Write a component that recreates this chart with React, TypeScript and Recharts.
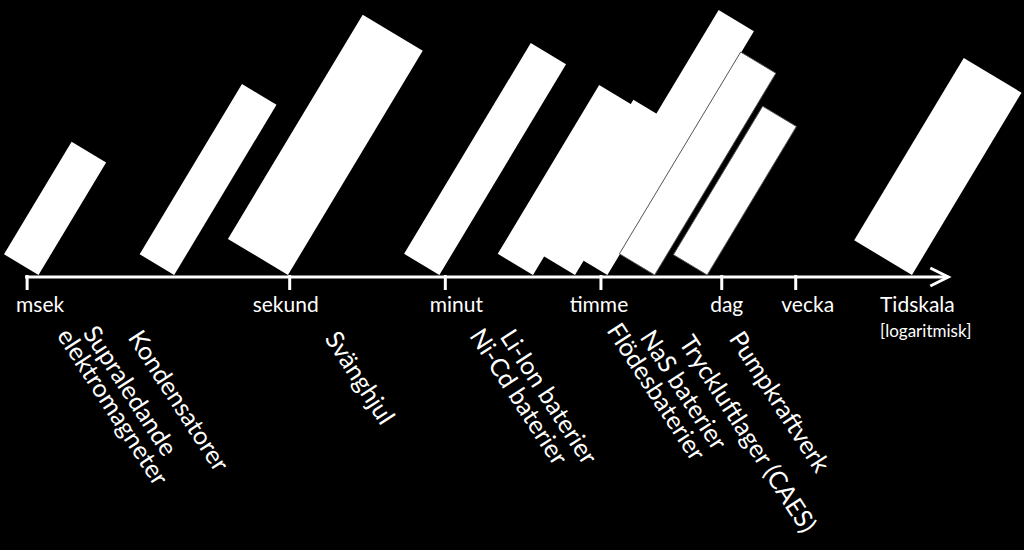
import { ScatterChart, Scatter, XAxis, YAxis, ReferenceLine } from 'recharts';

// Tidsaxeln är logaritmisk: alla x-värden är log10(sekunder)
const tickSeconds = [0.001, 1, 60, 3600, 86400, 604800];
const tickNames = ['msek', 'sekund', 'minut', 'timme', 'dag', 'vecka'];
const tickValues = tickSeconds.map((s) => Math.log10(s));

// blocken: var de möter axeln, hur långa och hur breda de är (i dekader)
const blockNames = [
  'Supraledande elektromagneter',
  'Kondensatorer',
  'Svänghjul',
  'Li-Ion baterier',
  'Ni-Cd baterier',
  'Flödesbaterier',
  'NaS baterier',
  'Tryckluftlager (CAES)',
  'Pumpkraftverk',
  'Övrigt',
];
const blockStart = [-2.87, -1.32, -0.02, 1.71, 2.78, 3.26, 3.63, 4.17, 4.77, 7.11];
const blockLength = [1.5, 2.27, 2.99, 2.81, 2.25, 2.06, 3.25, 2.69, 1.98, 2.43];
const blockWidth = [0.46, 0.46, 0.8, 0.47, 0.47, 0.46, 0.47, 0.47, 0.45, 0.77];

// textraderna under axeln
const captionLines = [
  'Supraledande',
  'elektromagneter',
  'Kondensatorer',
  'Svänghjul',
  'Li-Ion baterier',
  'Ni-Cd baterier',
  'Flödesbaterier',
  'NaS baterier',
  'Tryckluftlager (CAES)',
  'Pumpkraftverk',
];

// layout
const W = 1024;
const H = 550;
const X_MIN = -3.31;
const X_MAX = 8.39;
const PX = W / (X_MAX - X_MIN); // pixlar per dekad
const TILT = (31 * Math.PI) / 180;
const TEXT_ANGLE = 57;
const FONT = 'Lato, "Open Sans", sans-serif';

const DRAW_ORDER = [0, 1, 2, 3, 6, 5, 4, 7, 8, 9];
const OUTLINED = new Set([7, 8]);
const TICK_SHIFT = [13, -4, 11, -2, 5, 12];
const CAPTION_AT = [-1.826, -2.025, -1.273, 0.798, 2.955, 2.612, 4.183, 4.497, 5.231, 5.593];
const CAPTION_DROP = [116, 132, 126, 103, 122, 122, 117, 115, 159, 127];
const AXIS_FROM = -3.024;
const AXIS_TO = 7.525;
const TITLE_AT = 6.745;

const blocks = DRAW_ORDER.map((i) => ({
  x: blockStart[i],
  y: 0,
  name: blockNames[i],
  len: blockLength[i],
  wid: blockWidth[i],
  outlined: OUTLINED.has(i),
}));

const captions = captionLines.map((text, i) => ({
  x: CAPTION_AT[i],
  y: 0,
  text,
  drop: CAPTION_DROP[i],
}));

const title = [{ x: TITLE_AT, y: 0 }];

const Block = (props: any) => {
  const { cx, cy, payload } = props;
  const l = payload.len * PX;
  const w = payload.wid * PX;
  const ux = Math.sin(TILT);
  const uy = -Math.cos(TILT);
  const vx = -Math.cos(TILT);
  const vy = -Math.sin(TILT);
  const pts = [
    [cx, cy],
    [cx + w * vx, cy + w * vy],
    [cx + w * vx + l * ux, cy + w * vy + l * uy],
    [cx + l * ux, cy + l * uy],
  ];
  return (
    <polygon
      points={pts.map((p) => p.join(',')).join(' ')}
      fill="#fff"
      stroke={payload.outlined ? '#555' : 'none'}
      strokeWidth={1}
    />
  );
};

const Caption = (props: any) => {
  const { cx, cy, payload } = props;
  const y = cy + payload.drop;
  return (
    <text
      x={cx}
      y={y}
      dy="0.33em"
      transform={`rotate(${TEXT_ANGLE}, ${cx}, ${y})`}
      textAnchor="middle"
      fill="#fff"
      fontSize={25}
      fontFamily={FONT}
    >
      {payload.text}
    </text>
  );
};

const AxisTitle = (props: any) => {
  const { cx, cy } = props;
  return (
    <g fill="#fff" fontFamily={FONT}>
      <text x={cx} y={cy + 37} fontSize={21}>
        Tidskala
      </text>
      <text x={cx} y={cy + 62} fontSize={17}>
        [logaritmisk]
      </text>
    </g>
  );
};

const TimeTick = (props: any) => {
  const { x, payload } = props;
  const i = tickValues.indexOf(payload.value);
  return (
    <text x={x + (TICK_SHIFT[i] || 0)} y={312} textAnchor="middle" fill="#fff" fontSize={21} fontFamily={FONT}>
      {tickNames[i]}
    </text>
  );
};

// axeln ligger strax under blockens spetsar
const Arrow = (props: any) => {
  const { x1, x2 } = props;
  const y = props.y1 + 2;
  return (
    <g stroke="#fff" strokeWidth={3} fill="none">
      <line x1={x1} y1={y} x2={x2} y2={y} />
      <polyline points={`${x2 - 18},${y - 9} ${x2},${y} ${x2 - 18},${y + 9}`} strokeLinejoin="miter" />
    </g>
  );
};

export default function App() {
  return (
    <div style={{ position: 'absolute', left: 0, top: 0, width: W, height: H, background: '#000' }}>
      <ScatterChart width={W} height={H} margin={{ top: 0, right: 0, bottom: 245, left: 0 }}>
        <XAxis
          type="number"
          dataKey="x"
          domain={[X_MIN, X_MAX]}
          ticks={tickValues}
          height={30}
          axisLine={false}
          tickLine={{ stroke: '#fff', strokeWidth: 3 }}
          tickSize={15}
          tick={<TimeTick />}
          interval={0}
        />
        <YAxis type="number" dataKey="y" domain={[0, 3.2]} hide />
        <Scatter data={blocks} shape={<Block />} isAnimationActive={false} />
        <ReferenceLine
          segment={[
            { x: AXIS_FROM, y: 0 },
            { x: AXIS_TO, y: 0 },
          ]}
          shape={<Arrow />}
          ifOverflow="visible"
        />
        <Scatter data={captions} shape={<Caption />} isAnimationActive={false} />
        <Scatter data={title} shape={<AxisTitle />} isAnimationActive={false} />
      </ScatterChart>
    </div>
  );
}
